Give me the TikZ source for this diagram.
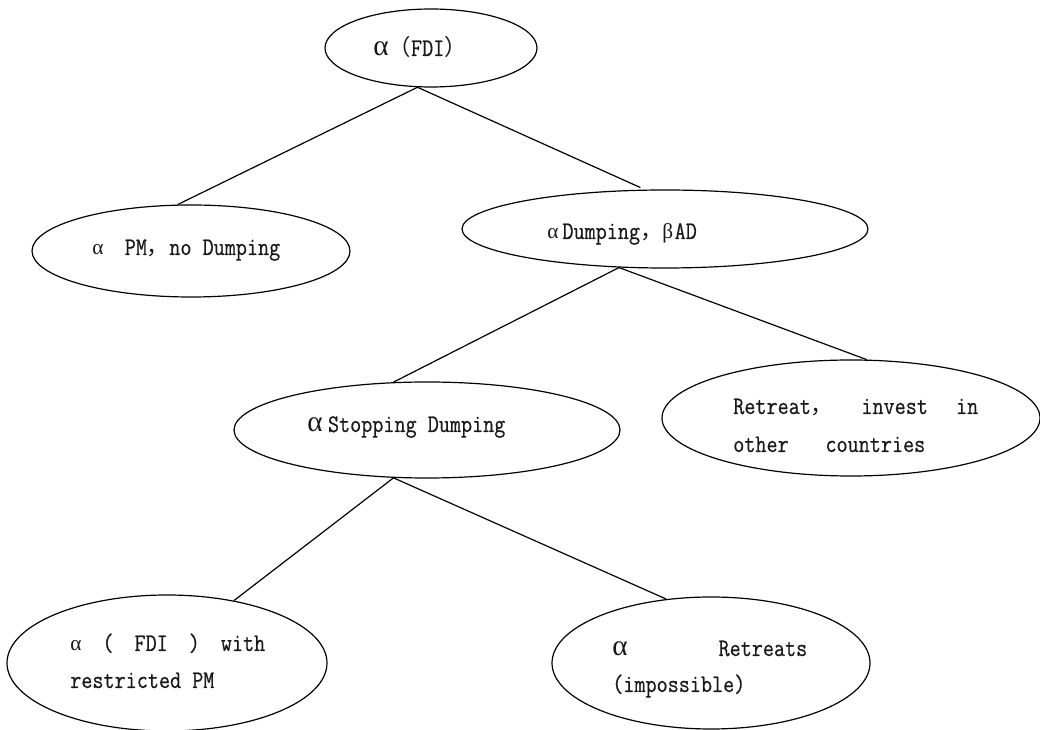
\documentclass[tikz,border=0pt]{standalone}
\usepackage{fontspec}
\usetikzlibrary{shapes.geometric}
\setmonofont{Latin Modern Mono}[FakeStretch=0.85, FakeBold=0.5]
\newfontfamily\grk{Liberation Serif}
\newfontfamily\cjk{Noto Sans CJK SC}
\newcommand{\fw}[1]{{\cjk\fontsize{16.8pt}{20pt}\selectfont #1}}
\newcommand{\smalpha}{{\grk\fontsize{16pt}{19pt}\selectfont α}}
\newcommand{\bigalpha}{{\grk\fontsize{22pt}{24pt}\selectfont α}}
\newcommand{\smbeta}{{\grk\fontsize{16pt}{19pt}\selectfont β}}
\tikzset{
  ell/.style={draw, ellipse, inner sep=0pt, line width=0.9pt},
  txt/.style={anchor=base west, inner sep=0pt, text=black!90,
    font=\fontsize{19pt}{22pt}\selectfont\ttfamily},
  con/.style={line width=0.9pt}
}
\begin{document}
\begin{tikzpicture}[x=0.75pt, y=-0.75pt]
\useasboundingbox (0,0) rectangle (1040,730);
\fill[white] (0,0) rectangle (1040,730);
% ellipses
\node[ell, minimum width=159pt, minimum height=58.5pt] (e1) at (431,48) {};
\node[ell, minimum width=238.5pt, minimum height=69pt] (e2) at (191,251) {};
\node[ell, minimum width=304.5pt, minimum height=58.5pt] (e3) at (665,229) {};
\node[ell, minimum width=289.5pt, minimum height=72pt] (e4) at (427,430) {};
\node[ell, minimum width=283.5pt, minimum height=87pt] (e5) at (851,418) {};
\node[ell, minimum width=240pt, minimum height=102pt] (e6) at (167,663) {};
\node[ell, minimum width=238.5pt, minimum height=99pt] (e7) at (711,663) {};
% labels
\node[txt] (t1) at (373,56) {\bigalpha\fw{（}FDI\fw{）}};
\node[txt] (t2) at (92,255) {\smalpha\hspace{16pt}PM\fw{，}no Dumping};
\node[txt] (t3) at (547,239) {\smalpha\hspace{3pt}Dumping\fw{，}\smbeta\hspace{1pt}AD};
\node[txt] (t4) at (307,432) {\bigalpha\hspace{4pt}Stopping Dumping};
\node[txt] (t5a) at (733,414) {\makebox[183.75pt][l]{Retreat\fw{，}\hfill invest\hfill in}};
\node[txt] (t5b) at (733,452) {\makebox[144pt][l]{other\hfill countries}};
\node[txt] (t6a) at (70,651) {\makebox[146.25pt][l]{\smalpha\hfill(\hfill FDI\hfill)\hfill with}};
\node[txt] (t6b) at (70,688) {restricted PM};
\node[txt] (t7a) at (612,656) {\makebox[146.25pt][l]{\bigalpha\hfill Retreats}};
\node[txt] (t7b) at (612,692) {(impossible)};
% connectors
\draw[con] (e1.251) -- (e2.106);
\draw[con, shorten >=3.75pt] (e1.251) -- (e3.117);
\draw[con] (e3.220) -- (e4.125);
\draw[con] (e3.220) -- (e5.75);
\draw[con] (e4.235) -- (e6.43);
\draw[con] (e4.235) -- (e7.125);
\end{tikzpicture}
\end{document}
